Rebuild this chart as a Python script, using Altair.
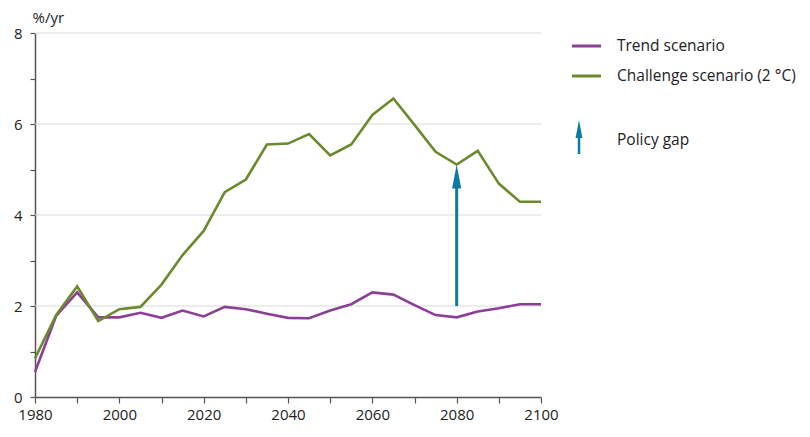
import altair as alt
import pandas as pd

years = list(range(1980, 2101, 5))
trend = [0.55, 1.78, 2.30, 1.75, 1.75, 1.85, 1.74, 1.90, 1.77, 1.98, 1.93, 1.83, 1.74,
         1.73, 1.90, 2.04, 2.30, 2.25, 2.02, 1.80, 1.75, 1.88, 1.95, 2.04, 2.04]
challenge = [0.85, 1.80, 2.43, 1.67, 1.93, 1.98, 2.47, 3.12, 3.65, 4.50, 4.78, 5.55, 5.57,
             5.78, 5.31, 5.55, 6.20, 6.56, 5.98, 5.39, 5.11, 5.41, 4.69, 4.29, 4.29]
series_names = ["Trend scenario", "Challenge scenario (2 °C)"]
colors = ["#8b3f97", "#6b8a2b"]
gap_label = "Policy gap"
gap_year = [2080]
gap_from = [2.0]
gap_to = [5.11]
gridlines = [2, 4, 6, 8]
y_unit = "%/yr"

teal = "#0b7ba0"
FONT = "Open Sans"
W, H = 506, 364

df = pd.DataFrame({
    "year": years * 2,
    "value": trend + challenge,
    "series": [series_names[0]] * len(years) + [series_names[1]] * len(years),
})
gap = pd.DataFrame({"year": gap_year, "lo": gap_from, "hi": gap_to,
                    "shaft_end": [gap_to[0] - 0.45]})

xs = alt.Scale(domain=[1980, 2100], nice=False, zero=False)
ys = alt.Scale(domain=[0, 8], nice=False)

x_axis = alt.Axis(
    values=list(range(1980, 2101, 10)), format="d",
    labelExpr="datum.value % 20 == 0 ? datum.label : ''",
    labelFlush=False, labelOverlap=False,
    title=None, grid=False, tickSize=6, labelPadding=4,
)
y_axis = alt.Axis(
    values=list(range(0, 9)),
    labelExpr="datum.value % 2 == 0 ? datum.label : ''",
    labelFlush=False, labelOverlap=False,
    title=y_unit, titleAngle=0, titleAlign="left", titleBaseline="middle",
    titleX=-3, titleY=-16, titleFontWeight="normal", titleFontSize=15,
    titleFont=FONT, titleColor="#222",
    grid=False, tickSize=5, labelPadding=8,
)

grid = alt.Chart(pd.DataFrame({"v": gridlines})).mark_rule(
    color="#dadada", strokeWidth=1
).encode(y=alt.Y("v:Q", scale=ys, axis=y_axis))

lines = alt.Chart(df).mark_line(strokeWidth=2.6).encode(
    x=alt.X("year:Q", scale=xs, axis=x_axis),
    y=alt.Y("value:Q", scale=ys, axis=y_axis),
    color=alt.Color("series:N", scale=alt.Scale(domain=series_names, range=colors), legend=None),
    detail="series:N",
)

shaft = alt.Chart(gap).mark_rule(color=teal, strokeWidth=3).encode(
    x=alt.X("year:Q", scale=xs, axis=x_axis), y=alt.Y("lo:Q", scale=ys, axis=y_axis), y2="shaft_end:Q"
)
head_path = "M0,0L0.38,2L-0.38,2Z"
head = alt.Chart(gap).mark_point(
    shape=head_path, filled=True, size=576, color=teal, opacity=1, strokeWidth=0
).encode(x=alt.X("year:Q", scale=xs, axis=x_axis), y=alt.Y("hi:Q", scale=ys, axis=y_axis))

# legend (drawn manually)
leg = pd.DataFrame({"label": series_names, "color": colors, "ypos": [13, 43]})
leg_lines = alt.Chart(leg).mark_rule(strokeWidth=3).encode(
    x=alt.value(537), x2=alt.value(566), y=alt.Y("ypos:Q", scale=None),
    color=alt.Color("color:N", scale=None),
)
leg_text = alt.Chart(leg).mark_text(
    align="left", baseline="middle", font=FONT, fontSize=15.5, color="#222"
).encode(x=alt.value(582), y=alt.Y("ypos:Q", scale=None), text="label:N")

gap_leg = pd.DataFrame({"label": [gap_label]})
leg_shaft = alt.Chart(gap_leg).mark_rule(color=teal, strokeWidth=2.5).encode(
    x=alt.value(544), y=alt.value(100), y2=alt.value(121)
)
leg_head = alt.Chart(gap_leg).mark_point(
    shape=head_path, filled=True, size=324, color=teal, opacity=1, strokeWidth=0
).encode(x=alt.value(544), y=alt.value(87))
leg_gap_text = alt.Chart(gap_leg).mark_text(
    align="left", baseline="middle", font=FONT, fontSize=15.5, color="#222"
).encode(x=alt.value(582), y=alt.value(107), text="label:N")

chart = alt.layer(
    grid, lines, shaft, head, leg_lines, leg_text, leg_shaft, leg_head, leg_gap_text
).properties(
    width=W, height=H,
    autosize="none",
    padding={"left": 27, "top": 25, "right": 260, "bottom": 30},
).configure_view(stroke=None).configure_axis(
    labelFont=FONT, labelFontSize=15, labelColor="#222",
    domainColor="#555", tickColor="#555", domainWidth=1.5, tickWidth=1.2,
)

chart.save("out.html", embed_options={"renderer": "svg", "actions": False})
